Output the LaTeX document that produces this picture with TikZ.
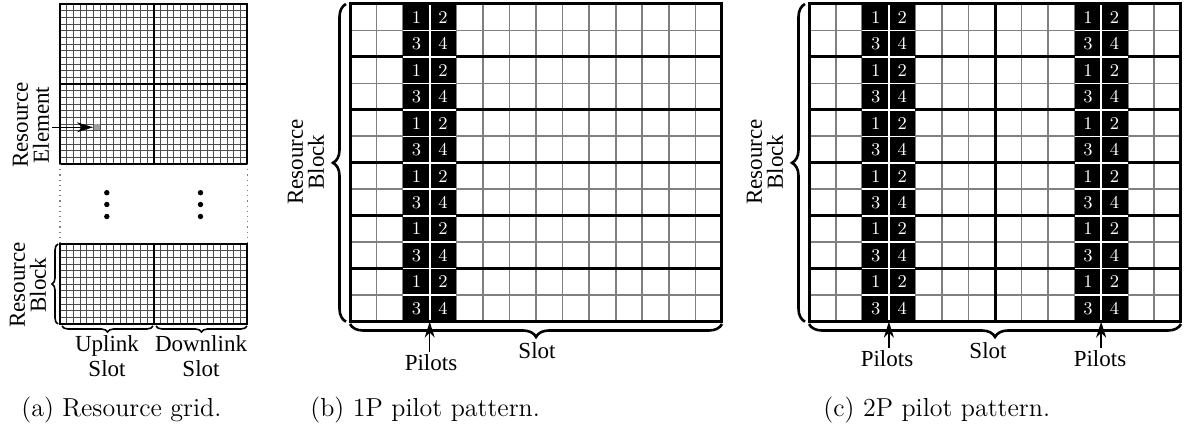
\documentclass[tikz,border=0pt]{standalone}
\usepackage{fontspec}
\newfontfamily\labfont{Liberation Serif}
\usetikzlibrary{decorations.pathreplacing,arrows.meta}
\begin{document}
\begin{tikzpicture}[x=0.5pt,y=-0.5pt,
  fine/.style={black!70,line width=0.45pt},
  thingrid/.style={black!50,line width=0.9pt},
  thickline/.style={black,line width=1.5pt},
  abox/.style={black,line width=1pt},
  brc/.style={decorate,decoration={brace,amplitude=6.5pt},line width=1.3pt},
  sbrc/.style={decorate,decoration={brace,amplitude=3pt},line width=0.8pt},
  lab/.style={font=\labfont\fontsize{11.5}{10.5}\selectfont,align=center,inner sep=0pt},
  labw/.style={font=\labfont\fontsize{11.5}{12.5}\selectfont,align=center,inner sep=0pt},
  captext/.style={font=\fontsize{13}{15}\selectfont,anchor=base west,inner sep=0pt},
  pnum/.style={text=white,font=\fontsize{9}{10}\selectfont,inner sep=0pt},
  arr/.style={-{Stealth[length=8pt,width=5pt,inset=2.5pt]},line width=0.7pt},
  wsep/.style={white,line width=0.8pt},
]
\useasboundingbox (0,0) rectangle (1187,426);

%% ---------- panel (a) ----------
% top grid
\foreach \i in {1,...,27} \draw[fine] ({60+\i*6.69},4) -- ({60+\i*6.69},164);
\foreach \j in {1,...,23} \draw[fine] (60,{4+\j*6.667}) -- (247.3,{4+\j*6.667});
\fill[gray!75] (93.7,124.3) rectangle (99.9,130.4);
\draw[abox] (60,4) rectangle (247.3,164);
\draw[abox] (153.65,4) -- (153.65,164);
\draw[abox] (60,84) -- (247.3,84);
% dotted gap
\draw[gray,dotted,line width=0.6pt] (60,164) -- (60,244);
\draw[gray,dotted,line width=0.6pt] (247.3,164) -- (247.3,244);
\foreach \cx/\nm in {106.8/l,200.5/r}
  \foreach \cy/\k in {192.7/1,204.5/2,216.5/3}
    \fill (\cx,\cy) circle[radius=1.35pt];
% bottom grid
\foreach \i in {1,...,27} \draw[fine] ({60+\i*6.69},244) -- ({60+\i*6.69},324);
\foreach \j in {1,...,11} \draw[fine] (60,{244+\j*6.667}) -- (247.3,{244+\j*6.667});
\draw[abox] (60,244) rectangle (247.3,324);
\draw[abox] (153.65,244) -- (153.65,324);
% labels (a)
\node[lab,rotate=90] (re) at (31,125) {Resource\\Element};
\coordinate (reS) at (52,127.3);
\coordinate (reC) at (93,127.3);
\draw[arr] (reS) -- (reC);
\draw[sbrc] (58,324) -- (58,244);
\node[lab,rotate=90] (arb) at (28,285) {Resource\\Block};
\draw[sbrc] (153,326) -- (62,326);
\draw[sbrc] (247,326) -- (156,326);
\node[labw] (ul) at (107,356) {Uplink\\Slot};
\node[labw] (dl) at (201,356) {Downlink\\Slot};
\node[captext] (capa) at (21,416) {(a) Resource grid.};

%% ---------- panel (b) ----------
\def\bx{350}\def\cw{26.57}\def\rh{26.47}\def\by{4}
\foreach \i in {1,...,13} \draw[thingrid] ({\bx+\i*\cw},\by) -- ({\bx+\i*\cw},{\by+12*\rh});
\foreach \j in {1,...,11} \draw[thingrid] (\bx,{\by+\j*\rh}) -- ({\bx+14*\cw},{\by+\j*\rh});
\fill[black] ({\bx+2*\cw},\by) rectangle ({\bx+4*\cw},{\by+12*\rh});
\draw[wsep] ({\bx+3*\cw},\by) -- ({\bx+3*\cw},{\by+12*\rh});
\foreach \j in {1,...,11} \draw[wsep] ({\bx+2*\cw},{\by+\j*\rh}) -- ({\bx+4*\cw},{\by+\j*\rh});
\foreach \j in {2,4,...,10} {
  \draw[thickline] (\bx,{\by+\j*\rh}) -- ({\bx+2*\cw},{\by+\j*\rh});
  \draw[thickline] ({\bx+4*\cw},{\by+\j*\rh}) -- ({\bx+14*\cw},{\by+\j*\rh});
}
\draw[thickline] (\bx,\by) rectangle ({\bx+14*\cw},{\by+12*\rh});
\foreach \r in {0,2,...,10} {
  \node[pnum] (b1-\r) at ({\bx+2.5*\cw},{\by+(\r+0.5)*\rh}) {1};
  \node[pnum] (b2-\r) at ({\bx+3.5*\cw},{\by+(\r+0.5)*\rh}) {2};
  \node[pnum] (b3-\r) at ({\bx+2.5*\cw},{\by+(\r+1.5)*\rh}) {3};
  \node[pnum] (b4-\r) at ({\bx+3.5*\cw},{\by+(\r+1.5)*\rh}) {4};
}
\draw[brc] (346,321.7) -- (346,4);
\node[lab,rotate=90] (brb) at (306,162) {Resource\\Block};
\draw[brc] (722,324) -- (350,324);
\node[lab] (bslot) at (537,351) {Slot};
\node[lab,inner sep=1.5pt] (bpil) at (431,363) {Pilots};
\coordinate (bp) at ({\bx+3*\cw},{\by+12*\rh});
\draw[arr] (bp |- bpil.north) -- (bp);
\node[captext] (capb) at (310,416) {(b) 1P pilot pattern.};

%% ---------- panel (c) ----------
\def\qx{809.3}\def\qw{26.53}
\foreach \i in {1,...,13} \draw[thingrid] ({\qx+\i*\qw},\by) -- ({\qx+\i*\qw},{\by+12*\rh});
\foreach \j in {1,...,11} \draw[thingrid] (\qx,{\by+\j*\rh}) -- ({\qx+14*\qw},{\by+\j*\rh});
\foreach \p in {2,10} {
  \fill[black] ({\qx+\p*\qw},\by) rectangle ({\qx+(\p+2)*\qw},{\by+12*\rh});
  \draw[wsep] ({\qx+(\p+1)*\qw},\by) -- ({\qx+(\p+1)*\qw},{\by+12*\rh});
  \foreach \j in {1,...,11} \draw[wsep] ({\qx+\p*\qw},{\by+\j*\rh}) -- ({\qx+(\p+2)*\qw},{\by+\j*\rh});
}
\foreach \j in {2,4,...,10} {
  \draw[thickline] (\qx,{\by+\j*\rh}) -- ({\qx+2*\qw},{\by+\j*\rh});
  \draw[thickline] ({\qx+4*\qw},{\by+\j*\rh}) -- ({\qx+10*\qw},{\by+\j*\rh});
  \draw[thickline] ({\qx+12*\qw},{\by+\j*\rh}) -- ({\qx+14*\qw},{\by+\j*\rh});
}
\draw[thickline] ({\qx+7*\qw},\by) -- ({\qx+7*\qw},{\by+12*\rh});
\draw[thickline] (\qx,\by) rectangle ({\qx+14*\qw},{\by+12*\rh});
\foreach \p in {2,10} {
  \foreach \r in {0,2,...,10} {
    \node[pnum] (c1-\p-\r) at ({\qx+(\p+0.5)*\qw},{\by+(\r+0.5)*\rh}) {1};
    \node[pnum] (c2-\p-\r) at ({\qx+(\p+1.5)*\qw},{\by+(\r+0.5)*\rh}) {2};
    \node[pnum] (c3-\p-\r) at ({\qx+(\p+0.5)*\qw},{\by+(\r+1.5)*\rh}) {3};
    \node[pnum] (c4-\p-\r) at ({\qx+(\p+1.5)*\qw},{\by+(\r+1.5)*\rh}) {4};
  }
}
\draw[brc] (805,321.7) -- (805,4);
\node[lab,rotate=90] (crb) at (765,162) {Resource\\Block};
\draw[brc] (1181,324) -- (809,324);
\node[lab] (cslot) at (988,351) {Slot};
\node[lab,inner sep=1.5pt] (cpil1) at (887,359) {Pilots};
\node[lab,inner sep=1.5pt] (cpil2) at (1100,359) {Pilots};
\coordinate (cp1) at ({\qx+3*\qw},{\by+12*\rh});
\coordinate (cp2) at ({\qx+11*\qw},{\by+12*\rh});
\draw[arr] (cp1 |- cpil1.north) -- (cp1);
\draw[arr] (cp2 |- cpil2.north) -- (cp2);
\node[captext] (capc) at (823,416) {(c) 2P pilot pattern.};
\end{tikzpicture}
\end{document}
